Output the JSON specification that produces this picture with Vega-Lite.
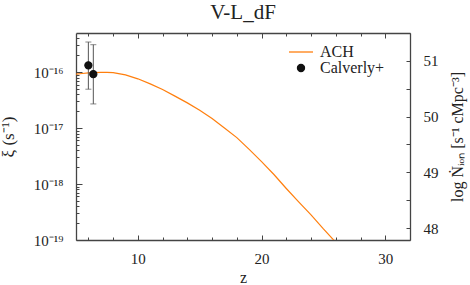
{
  "$schema": "https://vega.github.io/schema/vega-lite/v6.json",
  "width": 334,
  "height": 207,
  "autosize": {"type": "none"},
  "padding": {"left": 76, "top": 33, "right": 60, "bottom": 45},
  "title": {"text": "V-L_dF", "fontSize": 21, "font": "Liberation Serif", "fontWeight": "normal", "color": "#222", "offset": 7, "anchor": "middle"},
  "config": {
    "view": {"stroke": null},
    "axis": {
      "labelFont": "Liberation Serif", "titleFont": "Liberation Serif",
      "labelFontSize": 15, "titleFontSize": 16,
      "labelColor": "#222", "titleColor": "#222", "titleFontWeight": "normal",
      "domainColor": "#444", "tickColor": "#444", "domainWidth": 1.3, "tickWidth": 1, "grid": false
    },
    "legend": {"labelFont": "Liberation Serif", "labelFontSize": 16, "labelColor": "#222"}
  },
  "datasets": {
    "ach": [
      {"z": 5.0, "xi": 9.23e-17}, {"z": 5.5, "xi": 9.44e-17}, {"z": 6.0, "xi": 9.66e-17},
      {"z": 6.5, "xi": 9.82e-17}, {"z": 7.0, "xi": 9.89e-17}, {"z": 7.5, "xi": 9.89e-17},
      {"z": 8.0, "xi": 9.77e-17}, {"z": 9.0, "xi": 8.91e-17}, {"z": 10.0, "xi": 7.59e-17},
      {"z": 11.0, "xi": 6.17e-17}, {"z": 12.0, "xi": 4.90e-17}, {"z": 13.0, "xi": 3.72e-17},
      {"z": 14.0, "xi": 2.82e-17}, {"z": 15.0, "xi": 2.09e-17}, {"z": 16.0, "xi": 1.48e-17},
      {"z": 17.0, "xi": 1.0e-17}, {"z": 18.0, "xi": 6.76e-18}, {"z": 19.0, "xi": 4.17e-18},
      {"z": 20.0, "xi": 2.51e-18}, {"z": 21.0, "xi": 1.48e-18}, {"z": 22.0, "xi": 8.32e-19},
      {"z": 23.0, "xi": 4.79e-19}, {"z": 24.0, "xi": 2.82e-19}, {"z": 25.0, "xi": 1.58e-19},
      {"z": 26.0, "xi": 9.1e-20}
    ],
    "cal": [
      {"z": 6.0, "xi": 1.32e-16, "lo": 4.95e-17, "hi": 3.45e-16, "series": "Calverly+"},
      {"z": 6.4, "xi": 9.2e-17, "lo": 2.7e-17, "hi": 3.09e-16, "series": "Calverly+"}
    ],
    "nion": [{"N": 47.79}, {"N": 51.495}]
  },
  "layer": [
    {
      "layer": [
        {
          "data": {"name": "ach"},
          "mark": {"type": "line", "color": "#ff7f0e", "strokeWidth": 1.2, "clip": true},
          "encoding": {
            "x": {"field": "z", "type": "quantitative", "scale": {"domain": [5, 32], "nice": false, "zero": false},
                  "axis": {"orient": "bottom", "values": [10, 20, 30], "tickSize": -5, "labelPadding": 16, "format": "d", "title": "z", "titlePadding": 3}},
            "y": {"field": "xi", "type": "quantitative", "scale": {"type": "log", "domain": [1e-19, 5e-16], "nice": false},
                  "axis": {"orient": "left", "values": [1e-19, 1e-18, 1e-17, 1e-16], "tickSize": -6, "labelPadding": 19,
                           "labelExpr": "datum.value > 5e-17 ? '10⁻¹⁶' : datum.value > 5e-18 ? '10⁻¹⁷' : datum.value > 5e-19 ? '10⁻¹⁸' : '10⁻¹⁹'",
                           "title": "ξ (s⁻¹)", "titleFontSize": 17, "titlePadding": 16}}
          }
        },
        {
          "data": {"name": "cal"},
          "mark": {"type": "rule", "color": "#555", "strokeWidth": 1},
          "encoding": {
            "x": {"field": "z", "type": "quantitative",
                  "axis": {"orient": "bottom", "values": [6, 8, 12, 14, 16, 18, 22, 24, 26, 28, 32], "tickSize": -3, "labels": false, "title": null, "domain": false}},
            "y": {"field": "lo", "type": "quantitative",
                  "axis": {"orient": "left", "labels": false, "title": null, "domain": false, "tickSize": -3,
                           "values": [2e-19, 3e-19, 4e-19, 5e-19, 6e-19, 7e-19, 8e-19, 9e-19, 2e-18, 3e-18, 4e-18, 5e-18, 6e-18, 7e-18, 8e-18, 9e-18, 2e-17, 3e-17, 4e-17, 5e-17, 6e-17, 7e-17, 8e-17, 9e-17, 2e-16, 3e-16, 4e-16]}},
            "y2": {"field": "hi"}
          }
        },
        {
          "data": {"name": "cal"},
          "mark": {"type": "tick", "color": "#555", "thickness": 1, "size": 6, "orient": "horizontal"},
          "encoding": {
            "x": {"field": "z", "type": "quantitative",
                  "axis": {"orient": "top", "values": [10, 20, 30], "tickSize": -5, "labels": false, "title": null}},
            "y": {"field": "hi", "type": "quantitative", "axis": null}
          }
        },
        {
          "data": {"name": "cal"},
          "mark": {"type": "tick", "color": "#555", "thickness": 1, "size": 6, "orient": "horizontal"},
          "encoding": {
            "x": {"field": "z", "type": "quantitative",
                  "axis": {"orient": "top", "values": [6, 8, 12, 14, 16, 18, 22, 24, 26, 28, 32], "tickSize": -3, "labels": false, "title": null, "domain": false}},
            "y": {"field": "lo", "type": "quantitative", "axis": null}
          }
        },
        {
          "data": {"name": "cal"},
          "mark": {"type": "point", "filled": true, "opacity": 1, "strokeWidth": 1.2},
          "encoding": {
            "x": {"field": "z", "type": "quantitative", "axis": null},
            "y": {"field": "xi", "type": "quantitative", "axis": null},
            "color": {"field": "series", "type": "nominal",
                      "scale": {"domain": ["ACH", "Calverly+"], "range": ["#ff7f0e", "#111111"]},
                      "legend": {"title": null, "orient": "none", "legendX": 212, "legendY": 6, "padding": 0,
                                 "rowPadding": -1, "labelOffset": 6, "symbolStrokeWidth": 1.3, "symbolOpacity": 1}},
            "stroke": {"field": "series", "type": "nominal",
                       "scale": {"domain": ["ACH", "Calverly+"], "range": ["#ff7f0e", "#111111"]}},
            "shape": {"field": "series", "type": "nominal",
                      "scale": {"domain": ["ACH", "Calverly+"], "range": ["stroke", "circle"]}},
            "size": {"field": "series", "type": "nominal",
                     "scale": {"domain": ["ACH", "Calverly+"], "range": [576, 50]}}
          }
        }
      ],
      "resolve": {"axis": {"x": "independent", "y": "independent"}}
    },
    {
      "data": {"name": "nion"},
      "mark": {"type": "point", "opacity": 0},
      "encoding": {
        "y": {"field": "N", "type": "quantitative", "scale": {"domain": [47.79, 51.495], "zero": false, "nice": false},
              "axis": {"orient": "right", "values": [48, 48.5, 49, 49.5, 50, 50.5, 51], "tickSize": -4, "labelPadding": 17,
                       "labelExpr": "datum.value % 1 === 0 ? format(datum.value, 'd') : ''",
                       "title": "log Ṅᵢₒₙ [s⁻¹ cMpc⁻³]", "titleAngle": 270, "titlePadding": 27}}
      }
    }
  ],
  "resolve": {"scale": {"y": "independent"}, "axis": {"x": "independent", "y": "independent"}}
}
